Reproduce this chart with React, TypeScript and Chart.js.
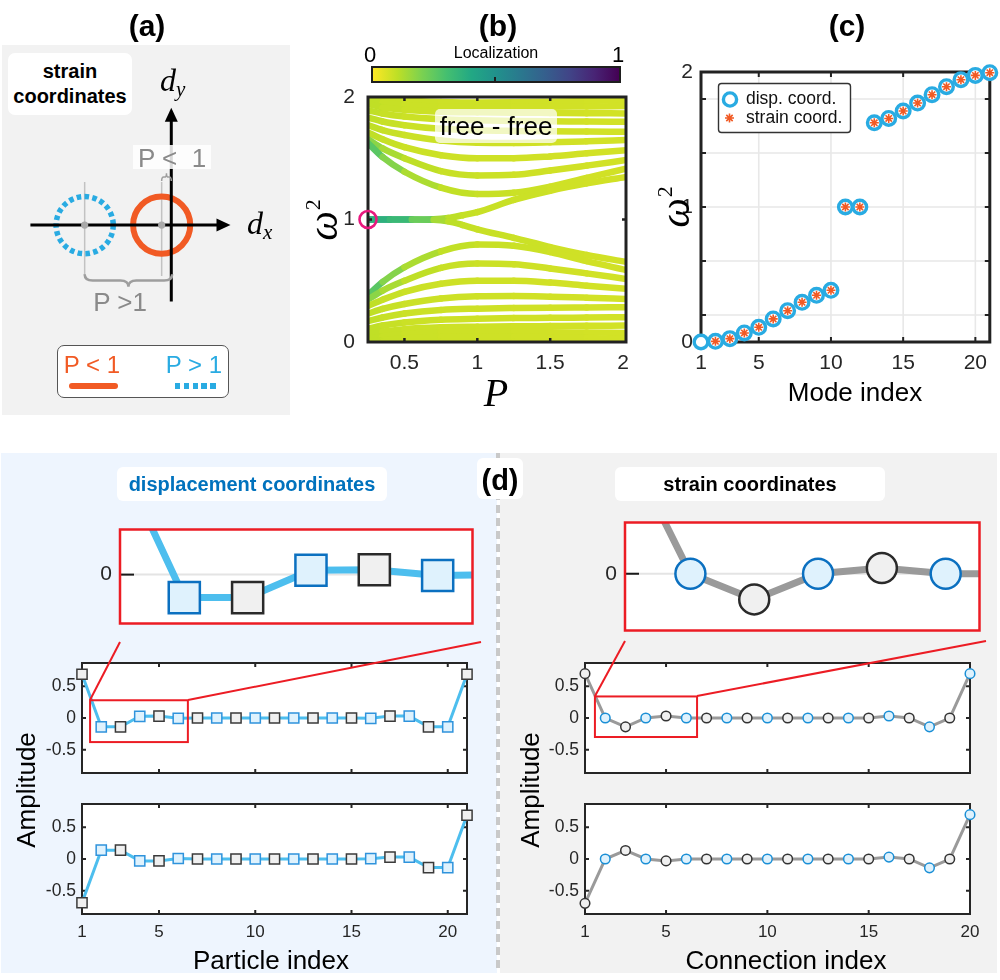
import React, { useEffect, useRef } from 'react';
import { Chart, registerables } from 'chart.js';

Chart.register(...registerables);

const SANS = "'Liberation Sans', Arial, Helvetica, sans-serif";
const SERIF = "'Liberation Serif', 'DejaVu Serif', 'Times New Roman', serif";
Chart.defaults.font.family = SANS;

// ---------------- panel (a): schematic geometry (units: orbit radius) ----------------
const A_X_RANGE = [-5.667, 3.933];
const A_Y_RANGE = [-6.333, 6.0];
const DX_AXIS = [-4.83, 2.03];
const DY_AXIS = [-2.6, 4.0];
const CENTER_P_LT_1 = [-0.33, 0];
const CENTER_P_GT_1 = [-2.97, 0];
const ORBIT_RADIUS = 0.98;
const GUIDE_SPAN = [1.47, -1.73];
const BRACE_WIDE_X = [-2.97, 0.03];
const BRACE_WIDE_Y = [-1.67, -2.1];
const BRACE_SMALL_X = [-0.33, 0.0];
const BRACE_SMALL_Y = [1.5, 1.77];

// ---------------- panel (b): omega^2 vs P ----------------
const P_GRID = [0.25, 0.35, 0.5, 0.75, 1.0, 1.25, 1.5, 1.75, 2.02];
const P_SPLIT = [0.25, 0.4, 0.55, 0.7, 0.8, 0.9, 1.0, 1.25, 1.5, 1.75, 2.02];
const W2_M01 = [0, 0, 0, 0, 0, 0, 0, 0, 0];
const W2_M02 = [0.005, 0.015, 0.028, 0.04, 0.045, 0.043, 0.038, 0.032, 0.025];
const W2_M03 = [0.025, 0.045, 0.065, 0.08, 0.083, 0.082, 0.08, 0.077, 0.074];
const W2_M04 = [0.067, 0.085, 0.105, 0.12, 0.125, 0.128, 0.13, 0.132, 0.134];
const W2_M05 = [0.109, 0.135, 0.16, 0.182, 0.19, 0.195, 0.197, 0.2, 0.203];
const W2_M06 = [0.171, 0.2, 0.232, 0.262, 0.272, 0.277, 0.28, 0.282, 0.284];
const W2_M07 = [0.232, 0.27, 0.31, 0.355, 0.373, 0.375, 0.37, 0.362, 0.352];
const W2_M08 = [0.294, 0.345, 0.41, 0.475, 0.5, 0.5, 0.485, 0.46, 0.434];
const W2_M09 = [0.346, 0.42, 0.5, 0.605, 0.64, 0.635, 0.6, 0.56, 0.515];
const W2_M10 = [0.383, 0.49, 0.61, 0.74, 0.795, 0.785, 0.735, 0.66, 0.588];
const W2_M11 = [1, 1, 1, 0.998, 0.985, 0.955, 0.92, 0.85, 0.775, 0.71, 0.655];
const W2_M12 = [1, 1, 1, 1.002, 1.012, 1.035, 1.06, 1.16, 1.235, 1.295, 1.348];
const W2_M13 = [1.624, 1.51, 1.39, 1.26, 1.208, 1.218, 1.268, 1.34, 1.415];
const W2_M14 = [1.656, 1.58, 1.5, 1.395, 1.36, 1.365, 1.4, 1.44, 1.485];
const W2_M15 = [1.711, 1.655, 1.59, 1.525, 1.5, 1.5, 1.515, 1.54, 1.566];
const W2_M16 = [1.77, 1.73, 1.69, 1.645, 1.627, 1.625, 1.63, 1.638, 1.648];
const W2_M17 = [1.832, 1.8, 1.77, 1.74, 1.728, 1.723, 1.72, 1.718, 1.716];
const W2_M18 = [1.891, 1.865, 1.84, 1.818, 1.81, 1.805, 1.802, 1.8, 1.797];
const W2_M19 = [1.943, 1.915, 1.895, 1.88, 1.875, 1.872, 1.87, 1.868, 1.866];
const W2_M20 = [1.975, 1.955, 1.935, 1.92, 1.917, 1.918, 1.92, 1.923, 1.926];
const W2_M21 = [1.995, 1.985, 1.972, 1.96, 1.955, 1.957, 1.962, 1.968, 1.975];
const LOC_BULK = [0.1, 0.09, 0.08, 0.075, 0.075, 0.072, 0.07, 0.068, 0.065];
const LOC_NEAR = [0.2, 0.15, 0.11, 0.085, 0.08, 0.075, 0.072, 0.07, 0.066];
const LOC_EDGE = [0.3, 0.22, 0.15, 0.1, 0.085, 0.08, 0.075, 0.07, 0.068];
const LOC_SPLIT = [0.37, 0.36, 0.3, 0.16, 0.11, 0.09, 0.085, 0.08, 0.075, 0.07, 0.068];
const PINK_MARK = [0.25, 1];
const B_XTICKS = [0.5, 1, 1.5, 2];
const B_YTICKS = [0, 1, 2];

// ---------------- panel (c): spectrum ----------------
const MODE_INDEX = [1, 2, 3, 4, 5, 6, 7, 8, 9, 10, 11, 12, 13, 14, 15, 16, 17, 18, 19, 20, 21];
const W2_DISP = [0, 0.005, 0.025, 0.067, 0.109, 0.171, 0.232, 0.294, 0.346, 0.383, 1, 1, 1.624, 1.656, 1.711, 1.77, 1.832, 1.891, 1.943, 1.975, 1.995];
const STRAIN_MODE_INDEX = [2, 3, 4, 5, 6, 7, 8, 9, 10, 11, 12, 13, 14, 15, 16, 17, 18, 19, 20, 21];
const W2_STRAIN = [0.005, 0.025, 0.067, 0.109, 0.171, 0.232, 0.294, 0.346, 0.383, 1, 1, 1.624, 1.656, 1.711, 1.77, 1.832, 1.891, 1.943, 1.975, 1.995];
const C_XTICKS = [1, 5, 10, 15, 20];
const C_YTICKS = [0, 0.2, 0.6, 1, 1.4, 1.8, 2];
const C_YLABELS = [0, 1, 2];
const C_GRID_X = [5, 10, 15, 20];
const C_GRID_Y = [0.2, 0.6, 1, 1.4, 1.8];

// ---------------- panel (d): edge modes ----------------
const PARTICLE_INDEX = [1, 2, 3, 4, 5, 6, 7, 8, 9, 10, 11, 12, 13, 14, 15, 16, 17, 18, 19, 20, 21];
const DISP_MODE_TOP = [0.69, -0.14, -0.14, 0.027, 0.03, -0.005, 0, 0, 0, 0, 0, 0, 0, 0, 0, -0.005, 0.03, 0.03, -0.14, -0.14, 0.69];
const DISP_MODE_BOTTOM = [-0.69, 0.14, 0.14, -0.03, -0.03, 0.008, 0, 0, 0, 0, 0, 0, 0, 0, 0, 0.005, 0.03, 0.03, -0.135, -0.135, 0.69];
const CONNECTION_INDEX = [1, 2, 3, 4, 5, 6, 7, 8, 9, 10, 11, 12, 13, 14, 15, 16, 17, 18, 19, 20];
const STRAIN_MODE_TOP = [0.7, 0, -0.14, 0, 0.031, 0, 0, 0, 0, 0, 0, 0, 0, 0, 0, 0.031, 0, -0.14, 0, 0.7];
const STRAIN_MODE_BOTTOM = [-0.7, 0, 0.135, 0, -0.03, 0, 0, 0, 0, 0, 0, 0, 0, 0, 0, 0.03, 0, -0.14, 0, 0.7];
const D_XTICKS = [1, 5, 10, 15, 20];
const D_FRAME_XTICKS = [5, 10, 15, 20];
const D_YTICKS = [-0.5, 0, 0.5];
const D_YRANGE = [-0.868, 0.868];
const DISP_XRANGE = [1, 21];
const STRAIN_XRANGE = [1, 20];
const DISP_ZOOM_X = [1.42, 6.5];
const DISP_ZOOM_Y = [-0.38, 0.28];
const STRAIN_ZOOM_X = [1.49, 6.53];
const STRAIN_ZOOM_Y = [-0.3, 0.34];
const DISP_INSET_X = [0.985, 6.55];
const DISP_INSET_Y = [-0.298, 0.275];
const STRAIN_INSET_X = [0.975, 6.53];
const STRAIN_INSET_Y = [-0.31, 0.28];

// ---------------- colours ----------------
const VIRIDIS = ['#440154', '#482475', '#414487', '#355f8d', '#2a788e', '#21918c', '#22a884', '#44bf70', '#7ad151', '#bddf26', '#fde725'];
const TXT = '#262626';
const RED = '#ec1c24';

function hexRgb(h: string) {
  const n = parseInt(h.slice(1), 16);
  return [(n >> 16) & 255, (n >> 8) & 255, n & 255];
}
function locColor(l: number) {
  const v = Math.max(0, Math.min(1, 1 - l)) * (VIRIDIS.length - 1);
  const i = Math.min(VIRIDIS.length - 2, Math.floor(v));
  const t = v - i;
  const a = hexRgb(VIRIDIS[i]);
  const b = hexRgb(VIRIDIS[i + 1]);
  const c = a.map((av, k) => Math.round(av + (b[k] - av) * t));
  return `rgb(${c[0]},${c[1]},${c[2]})`;
}

// ---------------- chart helpers ----------------
function scaleCfg(o: any) {
  const { min, max, ticks, labels = true, size, axis, font = 17, pad = 5, show } = o;
  return {
    type: 'linear',
    min,
    max,
    grid: { display: false, drawTicks: false },
    border: { display: false },
    afterBuildTicks: (s: any) => {
      s.ticks = ticks.map((v: number) => ({ value: v }));
    },
    afterFit: (s: any) => {
      if (axis === 'x') s.height = size;
      else s.width = size;
      s.paddingTop = 0;
      s.paddingBottom = 0;
      s.paddingLeft = 0;
      s.paddingRight = 0;
    },
    ticks: {
      display: labels,
      padding: pad,
      autoSkip: false,
      maxRotation: 0,
      minRotation: 0,
      color: TXT,
      font: { family: SANS, size: font },
      callback: (v: any) => {
        const n = Number(v);
        if (show && !show.includes(n)) return '';
        return String(n);
      },
    },
  };
}

function baseOptions(padding: any, scales: any) {
  return {
    responsive: false,
    animation: false,
    events: [],
    layout: { padding },
    plugins: { legend: { display: false }, tooltip: { enabled: false }, title: { display: false } },
    scales,
  };
}

function axesPlugin(o: any) {
  const frame = (chart: any) => {
    const { ctx, chartArea: a, scales } = chart;
    const xs = scales.x;
    const ys = scales.y;
    const L = o.tickLen ?? 4;
    const both = o.ticksBothSides !== false;
    ctx.save();
    ctx.lineCap = 'butt';
    ctx.strokeStyle = o.tickColor ?? o.frameColor ?? TXT;
    ctx.lineWidth = o.tickWidth ?? o.frameWidth ?? 2;
    ctx.beginPath();
    (o.xTicks ?? []).forEach((v: number) => {
      const p = xs.getPixelForValue(v);
      ctx.moveTo(p, a.bottom);
      ctx.lineTo(p, a.bottom - L);
      if (both) {
        ctx.moveTo(p, a.top);
        ctx.lineTo(p, a.top + L);
      }
    });
    (o.yTicks ?? []).forEach((v: number) => {
      const p = ys.getPixelForValue(v);
      ctx.moveTo(a.left, p);
      ctx.lineTo(a.left + L, p);
      if (both) {
        ctx.moveTo(a.right, p);
        ctx.lineTo(a.right - L, p);
      }
    });
    ctx.stroke();
    ctx.strokeStyle = o.frameColor ?? TXT;
    ctx.lineWidth = o.frameWidth ?? 2;
    ctx.strokeRect(a.left, a.top, a.right - a.left, a.bottom - a.top);
    ctx.restore();
  };
  return {
    id: 'matlabAxes',
    beforeDraw(chart: any) {
      if (!o.fill) return;
      const { ctx, chartArea: a } = chart;
      ctx.save();
      ctx.fillStyle = o.fill;
      ctx.fillRect(a.left, a.top, a.right - a.left, a.bottom - a.top);
      ctx.restore();
    },
    beforeDatasetsDraw(chart: any) {
      const { ctx, chartArea: a, scales } = chart;
      ctx.save();
      if (o.gridX || o.gridY) {
        ctx.strokeStyle = o.gridColor ?? '#e6e6e6';
        ctx.lineWidth = 1.6;
        ctx.beginPath();
        (o.gridX ?? []).forEach((v: number) => {
          const p = scales.x.getPixelForValue(v);
          ctx.moveTo(p, a.top);
          ctx.lineTo(p, a.bottom);
        });
        (o.gridY ?? []).forEach((v: number) => {
          const p = scales.y.getPixelForValue(v);
          ctx.moveTo(a.left, p);
          ctx.lineTo(a.right, p);
        });
        ctx.stroke();
      }
      if (o.zeroLine) {
        const p = scales.y.getPixelForValue(0);
        ctx.strokeStyle = o.zeroLine;
        ctx.lineWidth = 2;
        ctx.beginPath();
        ctx.moveTo(a.left, p);
        ctx.lineTo(a.right, p);
        ctx.stroke();
      }
      ctx.restore();
      if (o.frameStage === 'under') frame(chart);
    },
    beforeDatasetDraw(chart: any, args: any) {
      if (typeof o.frameStage === 'number' && args.index === o.frameStage) frame(chart);
    },
    afterDatasetsDraw(chart: any) {
      if (o.frameStage === 'over') frame(chart);
      if (o.zoomRect) {
        const { ctx, scales } = chart;
        const x0 = scales.x.getPixelForValue(o.zoomRect.x[0]);
        const x1 = scales.x.getPixelForValue(o.zoomRect.x[1]);
        const y0 = scales.y.getPixelForValue(o.zoomRect.y[1]);
        const y1 = scales.y.getPixelForValue(o.zoomRect.y[0]);
        ctx.save();
        ctx.strokeStyle = RED;
        ctx.lineWidth = 2;
        ctx.strokeRect(x0, y0, x1 - x0, y1 - y0);
        ctx.restore();
      }
      if (o.extra) o.extra(chart);
    },
  };
}

// ---------------- panel (a) chart ----------------
function drawBrace(ctx: any, x0: number, x1: number, yb: number, yt: number) {
  const xm = (x0 + x1) / 2;
  const ym = (yb + yt) / 2;
  const q = Math.min(8, (x1 - x0) / 5);
  ctx.beginPath();
  ctx.moveTo(x0, yb);
  ctx.quadraticCurveTo(x0, ym, x0 + q, ym);
  ctx.lineTo(xm - q, ym);
  ctx.quadraticCurveTo(xm, ym, xm, yt);
  ctx.quadraticCurveTo(xm, ym, xm + q, ym);
  ctx.lineTo(x1 - q, ym);
  ctx.quadraticCurveTo(x1, ym, x1, yb);
  ctx.stroke();
}

function buildSchematic() {
  const schematic = {
    id: 'schematic',
    beforeDatasetsDraw(chart: any) {
      const { ctx, scales } = chart;
      const X = (v: number) => scales.x.getPixelForValue(v);
      const Y = (v: number) => scales.y.getPixelForValue(v);
      const r = X(ORBIT_RADIUS) - X(0);
      ctx.save();
      ctx.strokeStyle = '#c2c2c2';
      ctx.lineWidth = 1.5;
      ctx.beginPath();
      [CENTER_P_GT_1, CENTER_P_LT_1].forEach((c) => {
        ctx.moveTo(X(c[0]), Y(GUIDE_SPAN[0]));
        ctx.lineTo(X(c[0]), Y(GUIDE_SPAN[1]));
      });
      ctx.stroke();
      // dashed orbit, P > 1
      ctx.strokeStyle = '#29abe2';
      ctx.lineWidth = 5.5;
      ctx.setLineDash([4.6, 3.3]);
      ctx.beginPath();
      ctx.arc(X(CENTER_P_GT_1[0]), Y(CENTER_P_GT_1[1]), r, 0, Math.PI * 2);
      ctx.stroke();
      ctx.setLineDash([]);
      // solid orbit, P < 1
      ctx.strokeStyle = '#f15a24';
      ctx.lineWidth = 6;
      ctx.beginPath();
      ctx.arc(X(CENTER_P_LT_1[0]), Y(CENTER_P_LT_1[1]), r, 0, Math.PI * 2);
      ctx.stroke();
      // axes with arrows
      ctx.strokeStyle = '#000';
      ctx.fillStyle = '#000';
      ctx.lineWidth = 3;
      const tipX = X(DX_AXIS[1]);
      const tipY = Y(DY_AXIS[1]);
      ctx.beginPath();
      ctx.moveTo(X(DX_AXIS[0]), Y(0));
      ctx.lineTo(tipX - 10, Y(0));
      ctx.moveTo(X(0), Y(DY_AXIS[0]));
      ctx.lineTo(X(0), tipY + 10);
      ctx.stroke();
      ctx.beginPath();
      ctx.moveTo(tipX, Y(0));
      ctx.lineTo(tipX - 14, Y(0) - 6.5);
      ctx.lineTo(tipX - 14, Y(0) + 6.5);
      ctx.closePath();
      ctx.fill();
      ctx.beginPath();
      ctx.moveTo(X(0), tipY);
      ctx.lineTo(X(0) - 6.5, tipY + 14);
      ctx.lineTo(X(0) + 6.5, tipY + 14);
      ctx.closePath();
      ctx.fill();
      // braces
      ctx.strokeStyle = '#9e9e9e';
      ctx.lineWidth = 2.5;
      drawBrace(ctx, X(BRACE_WIDE_X[0]), X(BRACE_WIDE_X[1]), Y(BRACE_WIDE_Y[0]), Y(BRACE_WIDE_Y[1]));
      ctx.lineWidth = 1.5;
      drawBrace(ctx, X(BRACE_SMALL_X[0]), X(BRACE_SMALL_X[1]), Y(BRACE_SMALL_Y[0]), Y(BRACE_SMALL_Y[1]));
      ctx.restore();
    },
  };
  return {
    type: 'scatter',
    data: {
      datasets: [
        {
          data: [CENTER_P_GT_1, CENTER_P_LT_1].map((c) => ({ x: c[0], y: c[1] })),
          pointRadius: 3.6,
          pointBorderWidth: 0,
          pointBackgroundColor: '#a9a9a9',
        },
      ],
    },
    options: baseOptions(0, {
      x: { type: 'linear', display: false, min: A_X_RANGE[0], max: A_X_RANGE[1] },
      y: { type: 'linear', display: false, min: A_Y_RANGE[0], max: A_Y_RANGE[1] },
    }),
    plugins: [schematic],
  };
}

// ---------------- panel (b) chart ----------------
function buildB() {
  const curves: any[] = [
    [P_GRID, W2_M01, LOC_BULK], [P_GRID, W2_M02, LOC_BULK], [P_GRID, W2_M03, LOC_BULK],
    [P_GRID, W2_M04, LOC_BULK], [P_GRID, W2_M05, LOC_BULK], [P_GRID, W2_M06, LOC_BULK],
    [P_GRID, W2_M07, LOC_BULK], [P_GRID, W2_M08, LOC_BULK], [P_GRID, W2_M09, LOC_NEAR],
    [P_GRID, W2_M10, LOC_EDGE], [P_SPLIT, W2_M11, LOC_SPLIT], [P_SPLIT, W2_M12, LOC_SPLIT],
    [P_GRID, W2_M13, LOC_EDGE], [P_GRID, W2_M14, LOC_NEAR], [P_GRID, W2_M15, LOC_BULK],
    [P_GRID, W2_M16, LOC_BULK], [P_GRID, W2_M17, LOC_BULK], [P_GRID, W2_M18, LOC_BULK],
    [P_GRID, W2_M19, LOC_BULK], [P_GRID, W2_M20, LOC_BULK], [P_GRID, W2_M21, LOC_BULK],
  ];
  const datasets: any[] = curves.map(([px, py, loc]) => ({
    type: 'line',
    data: px.map((x: number, i: number) => ({ x, y: py[i] })),
    borderWidth: 6.5,
    borderCapStyle: 'round',
    borderJoinStyle: 'round',
    pointRadius: 0,
    cubicInterpolationMode: 'monotone',
    borderColor: locColor(loc[0]),
    segment: {
      borderColor: (s: any) => locColor((loc[s.p0DataIndex] + loc[s.p1DataIndex]) / 2),
    },
  }));
  datasets.push({
    type: 'scatter',
    data: [{ x: PINK_MARK[0], y: PINK_MARK[1] }],
    pointRadius: 8.5,
    pointBorderWidth: 2.6,
    pointBorderColor: '#e8187e',
    pointBackgroundColor: 'rgba(0,0,0,0)',
    clip: false,
    order: -1,
  });
  const pinkIndex = datasets.length - 1;
  return {
    type: 'line',
    data: { datasets },
    options: baseOptions({ left: 0, top: 12, right: 14, bottom: 0 }, {
      x: scaleCfg({ axis: 'x', min: 0.25, max: 2.02, ticks: B_XTICKS, size: 43, font: 21, pad: 8.4 }),
      y: scaleCfg({ axis: 'y', min: 0, max: 2, ticks: B_YTICKS, size: 68, font: 21, pad: 13 }),
    }),
    plugins: [
      axesPlugin({
        fill: '#ffffff',
        frameColor: '#222',
        frameWidth: 3,
        tickWidth: 2.5,
        tickLen: 4,
        frameStage: pinkIndex,
        xTicks: [0.5, 1, 1.5],
        yTicks: [1],
      }),
    ],
  };
}

// ---------------- panel (c) chart ----------------
function buildC() {
  const legend = (chart: any) => {
    const ctx = chart.ctx;
    ctx.save();
    ctx.fillStyle = '#fff';
    ctx.strokeStyle = '#333333';
    ctx.lineWidth = 1.4;
    ctx.beginPath();
    if (ctx.roundRect) ctx.roundRect(78.5, 23.5, 132, 49, 3);
    else ctx.rect(78.5, 23.5, 132, 49);
    ctx.fill();
    ctx.stroke();
    ctx.beginPath();
    ctx.arc(90, 39.5, 6.6, 0, Math.PI * 2);
    ctx.fillStyle = '#fff';
    ctx.fill();
    ctx.strokeStyle = '#29abe2';
    ctx.lineWidth = 3.4;
    ctx.stroke();
    ctx.strokeStyle = '#f15a24';
    ctx.lineWidth = 1.6;
    ctx.beginPath();
    for (let k = 0; k < 4; k++) {
      const ang = (k * Math.PI) / 4;
      ctx.moveTo(89.5 - Math.cos(ang) * 4.5, 58 - Math.sin(ang) * 4.5);
      ctx.lineTo(89.5 + Math.cos(ang) * 4.5, 58 + Math.sin(ang) * 4.5);
    }
    ctx.stroke();
    ctx.fillStyle = '#111';
    ctx.font = `17.5px ${SANS}`;
    ctx.textBaseline = 'middle';
    ctx.textAlign = 'left';
    ctx.fillText('disp. coord.', 106, 39.5);
    ctx.fillText('strain coord.', 106, 58.5);
    ctx.restore();
  };
  return {
    type: 'scatter',
    data: {
      datasets: [
        {
          data: STRAIN_MODE_INDEX.map((x, i) => ({ x, y: W2_STRAIN[i] })),
          pointStyle: 'star',
          pointRadius: 4.5,
          pointBorderWidth: 1.6,
          pointBorderColor: '#f15a24',
          pointBackgroundColor: '#f15a24',
          clip: false,
        },
        {
          data: MODE_INDEX.map((x, i) => ({ x, y: W2_DISP[i] })),
          pointStyle: 'circle',
          pointRadius: 6.8,
          pointBorderWidth: 3.4,
          pointBorderColor: '#29abe2',
          pointBackgroundColor: '#ffffff',
          clip: false,
        },
      ],
    },
    options: baseOptions({ left: 0, top: 12, right: 7, bottom: 0 }, {
      x: scaleCfg({ axis: 'x', min: 1, max: 21, ticks: C_XTICKS, size: 43, font: 21, pad: 8.4 }),
      y: scaleCfg({ axis: 'y', min: 0, max: 2, ticks: C_YTICKS, show: C_YLABELS, size: 61, font: 21, pad: 8 }),
    }),
    plugins: [
      axesPlugin({
        fill: '#ffffff',
        frameColor: '#222',
        frameWidth: 3,
        tickWidth: 2,
        tickLen: 5,
        frameStage: 'under',
        xTicks: C_GRID_X,
        yTicks: C_GRID_Y,
        gridX: C_GRID_X,
        gridY: C_GRID_Y,
        gridColor: '#e8e8e8',
        extra: legend,
      }),
    ],
  };
}

// ---------------- panel (d) charts ----------------
function buildStrip(c: any) {
  const inset = !!c.inset;
  const blueFill = '#dff2fd';
  const grayFill = '#f0f0f0';
  return {
    type: 'line',
    data: {
      datasets: [
        {
          data: c.xs.map((x: number, i: number) => ({ x, y: c.ys[i] })),
          borderColor: c.line,
          borderWidth: inset ? 7 : 3,
          tension: 0,
          pointStyle: c.marker,
          pointRadius: c.radius,
          pointBorderWidth: inset ? 2.5 : 1.5,
          pointBackgroundColor: (ctx: any) => (ctx.dataIndex % 2 === 0 ? grayFill : blueFill),
          pointBorderColor: (ctx: any) => (ctx.dataIndex % 2 === 0 ? c.grayEdge : c.blueEdge),
          clip: inset ? 0 : false,
        },
      ],
    },
    options: baseOptions(c.padding, {
      x: scaleCfg({ axis: 'x', min: c.xRange[0], max: c.xRange[1], ticks: inset ? [] : D_XTICKS, labels: !!c.xLabels, size: c.xHeight, font: 17, pad: 8 }),
      y: scaleCfg({ axis: 'y', min: c.yRange[0], max: c.yRange[1], ticks: inset ? [0] : D_YTICKS, size: c.yWidth, font: inset ? 21 : 17.5, pad: inset ? 8 : 6 }),
    }),
    plugins: [
      axesPlugin(
        inset
          ? {
              fill: '#ffffff',
              frameColor: RED,
              frameWidth: 2.5,
              tickColor: '#1a1a1a',
              tickWidth: 2,
              tickLen: 14,
              ticksBothSides: false,
              yTicks: [0],
              zeroLine: '#e4e4e4',
              frameStage: 'over',
            }
          : {
              fill: '#ffffff',
              frameColor: '#262626',
              frameWidth: 2,
              tickLen: 4,
              xTicks: D_FRAME_XTICKS,
              yTicks: D_YTICKS,
              frameStage: 'under',
              zoomRect: c.zoomRect,
            },
      ),
    ],
  };
}

const DISP_STYLE = { marker: 'rect', line: '#4dbeee', grayEdge: '#3a3a3a', blueEdge: '#2f93dc' };
const DISP_INSET_STYLE = { marker: 'rect', line: '#4dbeee', grayEdge: '#2a2a2a', blueEdge: '#0b70c0' };
const STRAIN_STYLE = { marker: 'circle', line: '#9a9a9a', grayEdge: '#333333', blueEdge: '#1a8fd6' };
const STRAIN_INSET_STYLE = { marker: 'circle', line: '#9a9a9a', grayEdge: '#2a2a2a', blueEdge: '#0b70c0' };

const buildDispInset = () =>
  buildStrip({ ...DISP_INSET_STYLE, inset: true, xs: PARTICLE_INDEX, ys: DISP_MODE_TOP, xRange: DISP_INSET_X, yRange: DISP_INSET_Y, radius: 22, yWidth: 60, xHeight: 6, padding: { left: 0, top: 12, right: 16, bottom: 0 } });
const buildDispTop = () =>
  buildStrip({ ...DISP_STYLE, xs: PARTICLE_INDEX, ys: DISP_MODE_TOP, xRange: DISP_XRANGE, yRange: D_YRANGE, radius: 7.2, yWidth: 82, xHeight: 12, padding: { left: 0, top: 13, right: 30, bottom: 0 }, zoomRect: { x: DISP_ZOOM_X, y: DISP_ZOOM_Y } });
const buildDispBottom = () =>
  buildStrip({ ...DISP_STYLE, xs: PARTICLE_INDEX, ys: DISP_MODE_BOTTOM, xRange: DISP_XRANGE, yRange: D_YRANGE, radius: 7.2, yWidth: 82, xHeight: 38, xLabels: true, padding: { left: 0, top: 12, right: 30, bottom: 0 } });
const buildStrainInset = () =>
  buildStrip({ ...STRAIN_INSET_STYLE, inset: true, xs: CONNECTION_INDEX, ys: STRAIN_MODE_TOP, xRange: STRAIN_INSET_X, yRange: STRAIN_INSET_Y, radius: 15, yWidth: 65, xHeight: 7, padding: { left: 0, top: 12, right: 11, bottom: 0 } });
const buildStrainTop = () =>
  buildStrip({ ...STRAIN_STYLE, xs: CONNECTION_INDEX, ys: STRAIN_MODE_TOP, xRange: STRAIN_XRANGE, yRange: D_YRANGE, radius: 4.8, yWidth: 85, xHeight: 12, padding: { left: 0, top: 13, right: 27, bottom: 0 }, zoomRect: { x: STRAIN_ZOOM_X, y: STRAIN_ZOOM_Y } });
const buildStrainBottom = () =>
  buildStrip({ ...STRAIN_STYLE, xs: CONNECTION_INDEX, ys: STRAIN_MODE_BOTTOM, xRange: STRAIN_XRANGE, yRange: D_YRANGE, radius: 4.8, yWidth: 85, xHeight: 38, xLabels: true, padding: { left: 0, top: 12, right: 27, bottom: 0 } });

// ---------------- React pieces ----------------
function ChartCanvas({ box, build }: { box: number[]; build: () => any }) {
  const ref = useRef<HTMLCanvasElement>(null);
  useEffect(() => {
    const chart = new Chart(ref.current as HTMLCanvasElement, build());
    return () => chart.destroy();
  }, [build]);
  const [l, t, w, h] = box;
  return (
    <div style={{ position: 'absolute', left: l, top: t, width: w, height: h }}>
      <canvas ref={ref} width={w} height={h} style={{ display: 'block', width: w, height: h }} />
    </div>
  );
}

function Txt({ x, y, size, children, weight = 400, color = '#000', family = SANS, rotate = false, style = {} }: any) {
  return (
    <div
      style={{
        position: 'absolute',
        left: x,
        top: y,
        transform: `translate(-50%, -50%)${rotate ? ' rotate(-90deg)' : ''}`,
        fontSize: size,
        fontWeight: weight,
        color,
        fontFamily: family,
        lineHeight: 1,
        whiteSpace: 'pre',
        ...style,
      }}
    >
      {children}
    </div>
  );
}

function Box({ l, t, w, h, style = {}, children }: any) {
  return (
    <div style={{ position: 'absolute', left: l, top: t, width: w, height: h, boxSizing: 'border-box', ...style }}>{children}</div>
  );
}

function Omega2({ x, y }: { x: number; y: number }) {
  return (
    <Txt x={x} y={y} size={42} family={SERIF} rotate>
      <span style={{ fontStyle: 'italic' }}>ω</span>
      <span style={{ fontSize: 22, position: 'relative', top: -17, marginLeft: 1 }}>2</span>
    </Txt>
  );
}

export default function App() {
  const cbGradient = `linear-gradient(to right, ${VIRIDIS.slice().reverse().join(', ')})`;
  return (
    <div style={{ position: 'absolute', left: 0, top: 0, width: 1000, height: 980, background: '#fff', overflow: 'hidden', fontFamily: SANS }}>
      {/* backgrounds */}
      <Box l={2} t={45} w={288} h={370} style={{ background: '#f2f2f2' }} />
      <Box l={1} t={453} w={496} h={520} style={{ background: '#eef5fe' }} />
      <Box l={500} t={453} w={497} h={520} style={{ background: '#f2f2f2' }} />
      <Box l={496} t={453} w={4} h={520} style={{ background: 'repeating-linear-gradient(to bottom, #c9c9c9 0px, #c9c9c9 8px, rgba(0,0,0,0) 8px, rgba(0,0,0,0) 13px)' }} />

      {/* charts */}
      <ChartCanvas box={[2, 45, 288, 370]} build={buildSchematic} />
      <ChartCanvas box={[300, 85, 340, 300]} build={buildB} />
      <ChartCanvas box={[640, 60, 360, 325]} build={buildC} />
      <ChartCanvas box={[60, 505, 437, 143]} build={buildDispInset} />
      <ChartCanvas box={[0, 650, 497, 135]} build={buildDispTop} />
      <ChartCanvas box={[0, 792, 497, 160]} build={buildDispBottom} />
      <ChartCanvas box={[560, 505, 437, 143]} build={buildStrainInset} />
      <ChartCanvas box={[500, 650, 497, 135]} build={buildStrainTop} />
      <ChartCanvas box={[500, 792, 497, 160]} build={buildStrainBottom} />

      {/* zoom connectors */}
      <svg width={1000} height={980} style={{ position: 'absolute', left: 0, top: 0, pointerEvents: 'none' }}>
        <g stroke={RED} strokeWidth={2}>
          <line x1={120} y1={642} x2={90} y2={700} />
          <line x1={481} y1={642} x2={188} y2={700} />
          <line x1={625} y1={641} x2={595} y2={696} />
          <line x1={986} y1={641} x2={697} y2={696} />
        </g>
      </svg>

      {/* panel titles */}
      <Txt x={147} y={26} size={30} weight={700}>(a)</Txt>
      <Txt x={498} y={26} size={30} weight={700}>(b)</Txt>
      <Txt x={847} y={26} size={30} weight={700}>(c)</Txt>

      {/* panel (a) annotations */}
      <Box l={8} t={53} w={124} h={62} style={{ background: '#fff', borderRadius: 7, display: 'flex', alignItems: 'center', justifyContent: 'center', textAlign: 'center', fontWeight: 700, fontSize: 20, lineHeight: '25px', color: '#000' }}>
        strain
        <br />
        coordinates
      </Box>
      <div style={{ position: 'absolute', left: 160, top: 64, fontFamily: SERIF, fontStyle: 'italic', fontSize: 32, lineHeight: 1, whiteSpace: 'nowrap' }}>
        d<span style={{ fontSize: 21, position: 'relative', top: 5 }}>y</span>
      </div>
      <div style={{ position: 'absolute', left: 247, top: 207, fontFamily: SERIF, fontStyle: 'italic', fontSize: 32, lineHeight: 1, whiteSpace: 'nowrap' }}>
        d<span style={{ fontSize: 21, position: 'relative', top: 5 }}>x</span>
      </div>
      <Box l={133} t={145} w={78} h={24} style={{ background: 'rgba(255,255,255,0.85)' }} />
      <Txt x={172} y={158} size={26} color="#8a8a8a">{'P <  1'}</Txt>
      <Txt x={120} y={302} size={26} color="#8a8a8a">{'P >1'}</Txt>
      <Box l={57} t={345} w={172} h={53} style={{ background: '#fff', border: '1.5px solid #555', borderRadius: 7 }} />
      <Txt x={92} y={365} size={24} color="#f15a24">{'P < 1'}</Txt>
      <Txt x={194} y={365} size={24} color="#29abe2">{'P > 1'}</Txt>
      <Box l={69} t={383} w={49} h={6} style={{ background: '#f15a24', borderRadius: 3 }} />
      <Box l={175} t={383} w={41} h={6} style={{ background: 'repeating-linear-gradient(to right, #29abe2 0px, #29abe2 5.5px, rgba(0,0,0,0) 5.5px, rgba(0,0,0,0) 8.8px)' }} />

      {/* panel (b) annotations */}
      <Box l={371} t={66} w={250} h={17} style={{ background: cbGradient, border: '2px solid #1e1e1e' }} />
      <Box l={494} t={77} w={2} h={4} style={{ background: '#1e1e1e' }} />
      <Txt x={370} y={55} size={22}>0</Txt>
      <Txt x={496} y={53} size={16}>Localization</Txt>
      <Txt x={618} y={55} size={22}>1</Txt>
      <Box l={435} t={109} w={122} h={34} style={{ background: 'rgba(255,255,255,0.72)', borderRadius: 5 }} />
      <Txt x={496} y={126} size={26}>free - free</Txt>
      <Omega2 x={323} y={220} />
      <Txt x={496} y={393} size={40} family={SERIF} style={{ fontStyle: 'italic' }}>P</Txt>

      {/* panel (c) annotations */}
      <Omega2 x={675} y={207} />
      <Txt x={855} y={392} size={26}>Mode index</Txt>

      {/* panel (d) annotations */}
      <Box l={477} t={458} w={46} h={41} style={{ background: '#fff', borderRadius: 6 }} />
      <Txt x={500} y={480} size={29} weight={700}>(d)</Txt>
      <Box l={117} t={467} w={270} h={34} style={{ background: '#fff', borderRadius: 6 }} />
      <Txt x={252} y={484} size={20} weight={700} color="#0072bd">displacement coordinates</Txt>
      <Box l={615} t={467} w={270} h={34} style={{ background: '#fff', borderRadius: 6 }} />
      <Txt x={750} y={484} size={20} weight={700}>strain coordinates</Txt>
      <Txt x={26} y={790} size={26} rotate>Amplitude</Txt>
      <Txt x={530} y={790} size={26} rotate>Amplitude</Txt>
      <Txt x={271} y={960} size={26}>Particle index</Txt>
      <Txt x={786} y={960} size={26}>Connection index</Txt>
    </div>
  );
}
